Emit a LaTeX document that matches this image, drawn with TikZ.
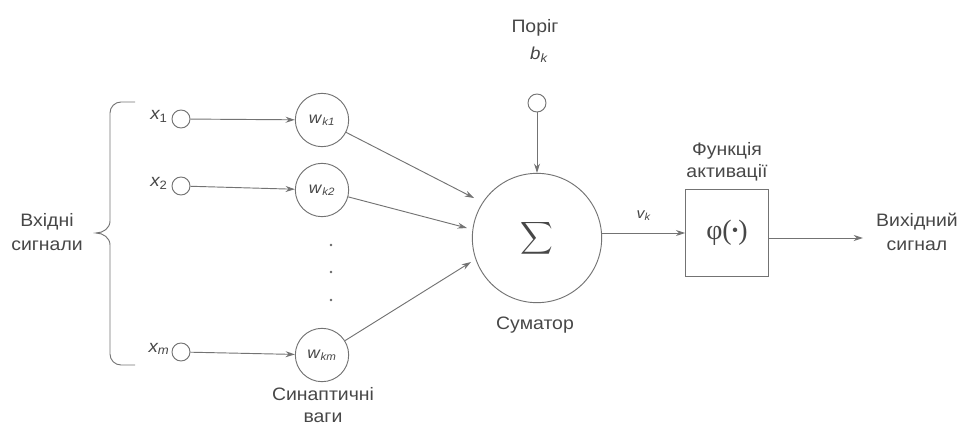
\documentclass[tikz,border=0pt]{standalone}
\usepackage{fontspec}
\usepackage{graphicx}
\setmainfont[FakeStretch=1.08]{Liberation Sans}
\newfontfamily\serifgr{Liberation Serif}
\usetikzlibrary{arrows.meta}
\begin{document}
\begin{tikzpicture}[x=0.75pt,y=-0.75pt,
  ln/.style={draw=black!55,line width=0.7pt},
  arr/.style={ln,-{Stealth[length=7pt,width=4.5pt]}},
  txt/.style={text=black!72,font=\fontsize{13.5}{16.5}\selectfont,align=center,inner sep=0pt},
  itxt/.style={txt,font=\fontsize{13}{14}\selectfont\itshape},
  innode/.style={circle,ln,minimum size=13.5pt,inner sep=0pt},
  wnode/.style={circle,ln,minimum size=40pt,inner sep=0pt,text=black!72,font=\fontsize{12}{13}\selectfont},
  dotmark/.style={circle,fill=black!60,minimum size=2pt,inner sep=0pt}]
\useasboundingbox (0,0) rectangle (959,425);

% inputs
\node[innode] (x1) at (181,119) {};
\node[innode] (x2) at (181,186) {};
\node[innode] (xm) at (181,352) {};
\node[itxt] (lx1) at (159,116) {x\textsubscript{\upshape 1}};
\node[itxt] (lx2) at (159,183) {x\textsubscript{\upshape 2}};
\node[itxt] (lxm) at (159,349) {x\textsubscript{m}};

% weights
\node[wnode] (w1) at (322,120) {\textit{w}\textsubscript{\itshape k1}};
\node[wnode] (w2) at (322,190) {\textit{w}\textsubscript{\itshape k2}};
\node[wnode] (wm) at (322,355) {\textit{w}\textsubscript{\itshape km}};
\node[dotmark] (d1) at (331,245) {};
\node[dotmark] (d2) at (331,272) {};
\node[dotmark] (d3) at (331,300) {};

\draw[arr] (x1) -- (w1);
\draw[arr] (x2) -- (w2);
\draw[arr] (xm) -- (wm);

% summing junction
\node[circle,ln,minimum size=97pt,inner sep=0pt,text=black!72] (sum) at (537,238)
  {\scalebox{1.7}{$\displaystyle\sum$}};
\node[innode] (b) at (537,103) {};
\node[txt] (porig) at (535,28) {Поріг};
\node[itxt] (bk) at (539,55) {b\textsubscript{k}};
\draw[arr] (b) -- (sum);

\coordinate (e1) at (474,198);
\coordinate (e2) at (467,228);
\coordinate (e3) at (471,262);
\draw[arr] (w1) -- (e1);
\draw[arr] (w2) -- (e2);
\draw[arr] (wm) -- (e3);

\node[txt] (sumlbl) at (535,325) {Суматор};

% activation
\node[rectangle,ln,minimum width=62pt,minimum height=65pt,inner sep=0pt,text=black!72] (phi) at (727,233)
  {\serifgr\fontsize{21}{22}\selectfont φ(\raisebox{0.25ex}{\fontsize{14}{14}\selectfont•})};
\node[txt] (actlbl) at (727,162) {Функція\\активації};
\draw[arr] (sum.east |- phi.west) -- node[itxt,above=9pt,font=\fontsize{11}{12}\selectfont\itshape] (vk) {v\textsubscript{k}} (phi.west);
\coordinate (outend) at (863,238);
\draw[arr] (phi.east |- outend) -- (outend);
\node[txt] (outlbl) at (917,232) {Вихідний\\[2pt]сигнал};

% brace
\draw[ln] (135,102) -- (121,102) to[out=180,in=90] (110,113) -- (110,221)
  to[out=-90,in=0] (96,233) to[out=0,in=90] (110,245) -- (110,354)
  to[out=-90,in=180] (121,365) -- (135,365);
\node[txt] (inlbl) at (47,232) {Вхідні\\[2pt]сигнали};

\node[txt] (synlbl) at (323,405) {Синаптичні\\ваги};
\end{tikzpicture}
\end{document}
